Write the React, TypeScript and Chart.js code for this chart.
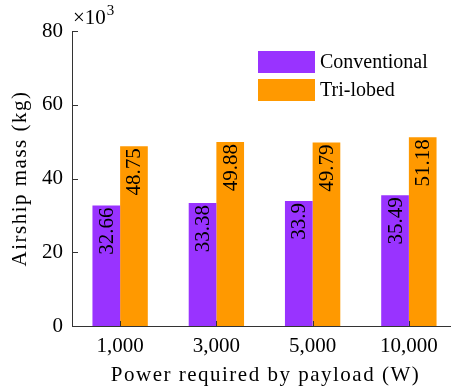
import { useEffect, useRef } from "react";
import { Chart, registerables } from "chart.js";

Chart.register(...registerables);

// Airship mass (×10³ kg) for each payload power requirement
const categories = ["1,000", "3,000", "5,000", "10,000"];
const conventional = [32.66, 33.38, 33.9, 35.49];
const triLobed = [48.75, 49.88, 49.79, 51.18];
const seriesNames = ["Conventional", "Tri-lobed"];
const seriesColors = ["#9933ff", "#ff9900"];
const yTicks = [0, 20, 40, 60, 80];
const yTitle = "Airship mass (kg)";
const xTitle = "Power required by payload (W)";
const yExponent = "3";

const FONT = '"Liberation Serif", serif';
const AXIS_COLOR = "#333333";

const W = 460;
const H = 391;

const decorations = {
  id: "decorations",
  afterDatasetsDraw(chart: any) {
    const ctx: CanvasRenderingContext2D = chart.ctx;
    // value labels, rotated, ending at the top of each bar
    ctx.save();
    ctx.fillStyle = "#000";
    chart.data.datasets.forEach((ds: any, di: number) => {
      const meta = chart.getDatasetMeta(di);
      meta.data.forEach((bar: any, i: number) => {
        ctx.save();
        ctx.translate(bar.x, bar.y + 2);
        ctx.rotate(-Math.PI / 2);
        ctx.font = `21px ${FONT}`;
        ctx.textAlign = "right";
        ctx.textBaseline = "middle";
        ctx.fillText(String(ds.data[i]), 0, 1);
        ctx.restore();
      });
    });
    ctx.restore();
  },
  afterDraw(chart: any) {
    const ctx: any = chart.ctx;
    const area = chart.chartArea;
    const xs = chart.scales.x;
    const ys = chart.scales.y;
    ctx.save();
    // axis lines
    ctx.strokeStyle = AXIS_COLOR;
    ctx.lineWidth = 1;
    ctx.beginPath();
    ctx.moveTo(area.left + 0.5, area.top);
    ctx.lineTo(area.left + 0.5, area.bottom + 0.5);
    ctx.lineTo(area.right, area.bottom + 0.5);
    ctx.stroke();
    // inward tick marks
    ctx.beginPath();
    yTicks.forEach((v) => {
      const y = Math.round(ys.getPixelForValue(v)) + 0.5;
      ctx.moveTo(area.left, y);
      ctx.lineTo(area.left + 6, y);
    });
    categories.forEach((_, i) => {
      const x = Math.round(xs.getPixelForValue(i)) + 0.5;
      ctx.moveTo(x, area.bottom);
      ctx.lineTo(x, area.bottom - 5);
    });
    ctx.stroke();

    // exponent marker
    ctx.fillStyle = "#000";
    ctx.textBaseline = "alphabetic";
    ctx.textAlign = "left";
    ctx.font = `21px ${FONT}`;
    const base = "\u00d710";
    ctx.fillText(base, area.left + 1, 24);
    const bw = ctx.measureText(base).width;
    ctx.font = `15px ${FONT}`;
    ctx.fillText(yExponent, area.left + 1 + bw + 1, 15);

    // axis titles
    ctx.font = `21px ${FONT}`;
    ctx.letterSpacing = "1.5px";
    ctx.textAlign = "center";
    ctx.textBaseline = "middle";
    ctx.fillText(xTitle, (area.left + area.right) / 2 + 1, 375);
    ctx.save();
    ctx.translate(20, (area.top + area.bottom) / 2);
    ctx.rotate(-Math.PI / 2);
    ctx.fillText(yTitle, 0, 0);
    ctx.restore();
    ctx.letterSpacing = "0px";

    // legend
    ctx.font = `20px ${FONT}`;
    ctx.textAlign = "left";
    ctx.textBaseline = "middle";
    chart.data.datasets.forEach((ds: any, i: number) => {
      const top = 51 + i * 28;
      ctx.fillStyle = ds.backgroundColor;
      ctx.fillRect(258, top, 57, 22);
      ctx.fillStyle = "#000";
      ctx.fillText(ds.label, 320, top + 12);
    });
    ctx.restore();
  },
};

export default function App() {
  const ref = useRef<HTMLCanvasElement | null>(null);

  useEffect(() => {
    document.body.style.overflow = "hidden";
    const canvas = ref.current;
    if (!canvas) return;
    const chart = new Chart(canvas, {
      type: "bar",
      data: {
        labels: categories,
        datasets: [
          {
            label: seriesNames[0],
            data: conventional,
            backgroundColor: seriesColors[0],
            borderWidth: 0,
          },
          {
            label: seriesNames[1],
            data: triLobed,
            backgroundColor: seriesColors[1],
            borderWidth: 0,
          },
        ],
      },
      options: {
        responsive: false,
        animation: false,
        devicePixelRatio: 1,
        layout: { padding: { left: 0, right: 3, top: 31, bottom: 0 } },
        plugins: {
          legend: { display: false },
          tooltip: { enabled: false },
        },
        datasets: {
          bar: { categoryPercentage: 0.575, barPercentage: 1 },
        },
        scales: {
          x: {
            grid: { display: false, drawTicks: false },
            border: { display: false },
            ticks: {
              color: "#000",
              font: { family: FONT, size: 21 },
              padding: 8,
              maxRotation: 0,
            },
            afterFit: (s: any) => {
              s.height = 65;
            },
          },
          y: {
            min: 0,
            max: 80,
            grid: { display: false, drawTicks: false },
            border: { display: false },
            afterBuildTicks: (s: any) => {
              s.ticks = yTicks.map((v) => ({ value: v }));
            },
            ticks: {
              color: "#000",
              font: { family: FONT, size: 21 },
              padding: 9,
            },
            afterFit: (s: any) => {
              s.width = 72;
            },
          },
        },
      },
      plugins: [decorations],
    });
    return () => chart.destroy();
  }, []);

  return (
    <div style={{ position: "fixed", left: 0, top: 0, width: W, height: H }}>
      <canvas ref={ref} width={W} height={H} style={{ width: W, height: H }} />
    </div>
  );
}
